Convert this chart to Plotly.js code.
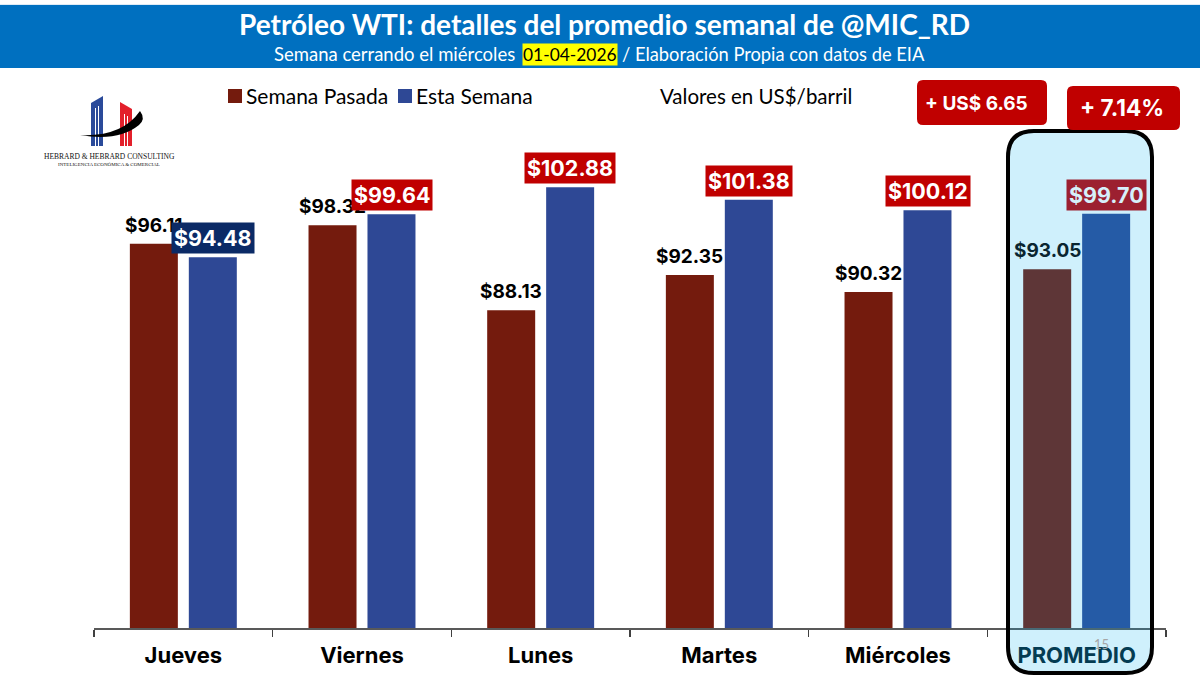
<!DOCTYPE html>
<html><head><meta charset="utf-8">
<script src="https://cdn.plot.ly/plotly-3.0.1.min.js"></script>
<style>html,body{margin:0;padding:0;background:#fff}#c{width:1200px;height:675px}</style></head>
<body><div id="c"></div>
<script>
const categories = ["Jueves","Viernes","Lunes","Martes","Miércoles","PROMEDIO"];
const semanaPasada = [96.11,98.32,88.13,92.35,90.32,93.05];
const estaSemana = [94.48,99.64,102.88,101.38,100.12,99.70];
const boxColors = ["#0B2A66","#C00000","#C00000","#C00000","#C00000","#9C2030"];
const seriesNames = ["Semana Pasada","Esta Semana"];
const seriesColors = ["#741B0D","#2E4895"];
const titleText = "Petróleo WTI: detalles del promedio semanal de @MIC_RD";

const L=94,R=1166,T=128,B=628;
const px=x=>(x-L)/(R-L), py=y=>(B-y)/(B-T);
const sans="Lato, 'Open Sans', sans-serif", inter="Inter, Roboto, sans-serif";
function rr(x0,y0,x1,y1,r){
  return `M${px(x0+r)},${py(y0)}L${px(x1-r)},${py(y0)}Q${px(x1)},${py(y0)} ${px(x1)},${py(y0+r)}L${px(x1)},${py(y1-r)}Q${px(x1)},${py(y1)} ${px(x1-r)},${py(y1)}L${px(x0+r)},${py(y1)}Q${px(x0)},${py(y1)} ${px(x0)},${py(y1-r)}L${px(x0)},${py(y0+r)}Q${px(x0)},${py(y0)} ${px(x0+r)},${py(y0)}Z`;
}
function poly(p){return "M"+p.map(a=>px(a[0])+","+py(a[1])).join("L")+"Z";}
function box(x0,y0,x1,y1,fill,line,layer){
  return {type:"rect",xref:"paper",yref:"paper",x0:px(x0),x1:px(x1),y0:py(y0),y1:py(y1),fillcolor:fill,line:line||{width:0},layer:layer||"above"};
}
function path(d,fill,line){return {type:"path",xref:"paper",yref:"paper",path:d,fillcolor:fill,line:line||{width:0},layer:"above"};}
function txt(x,y,text,size,color,family,anchor,extra){
  return Object.assign({xref:"paper",yref:"paper",x:px(x),y:py(y),text,showarrow:false,xanchor:anchor||"center",yanchor:"middle",font:{size,color,family}},extra||{});
}

const shapes=[
  box(0,4.5,1200,5.5,"#BDD7EE"),
  box(0,5,1200,68,"#0070C0"),
  // legend keys
  box(228,89,242,103,seriesColors[0]),
  box(398,89,412,103,seriesColors[1]),
  // logo
  path(poly([[91,103],[103,96],[103,146],[91,146]]),"#2A4A9A"),
  path(poly([[120,102],[132,109],[132,146],[120,146]]),"#E3202B"),
  box(95,108,96,146,"#FFFFFF"), box(98,106,99,146,"#FFFFFF"),
  box(124,114,125,146,"#FFFFFF"), box(127,116,128,146,"#FFFFFF"),
  path(`M${px(80)},${py(135)}Q${px(122)},${py(137)} ${px(140)},${py(111)}Q${px(146)},${py(119)} ${px(139)},${py(125)}Q${px(118)},${py(142)} ${px(80)},${py(135)}Z`,"#000000"),
  // highlight panel
  path(rr(1008,131,1152,673,26),"rgba(0,176,240,0.19)",{color:"#000000",width:4}),
  // badges
  path(rr(917,80,1047,125,6),"#C00000"),
  path(rr(1067,86,1180,130,6),"#C00000")
];

const annotations=[
  txt(604,24,"<b>"+titleText+"</b>",28,"#FFFFFF",sans),
  txt(522,54,"Semana cerrando el miércoles ",18.5,"#FFFFFF",sans,"right"),
  txt(570,54,"01-04-2026",17.4,"#000000",sans,"center",{bgcolor:"#FFFF00",borderpad:0}),
  txt(620,54,"/ Elaboración Propia con datos de EIA",18.3,"#FFFFFF",sans,"left"),
  txt(244,96,seriesNames[0],21,"#000000",sans,"left"),
  txt(414,96,seriesNames[1],21,"#000000",sans,"left"),
  txt(756,96,"Valores en US$/barril",20.5,"#000000",sans),
  txt(109,156,"HEBRARD &amp; HEBRARD CONSULTING",7.5,"#111111","'Liberation Serif', serif"),
  txt(109,165,"INTELIGENCIA ECONÓMICA &amp; COMERCIAL",5,"#111111","'Liberation Serif', serif"),
  txt(976,104,"<b>+ US$ 6.65</b>",19,"#FFFFFF",inter),
  txt(1122,108,"<b>+ 7.14%</b>",22.5,"#FFFFFF",inter),
  txt(1101,644,"15",13,"#A6A6A6",sans)
];
categories.forEach((c,i)=>{
  const promedio=c==="PROMEDIO";
  annotations.push({x:c,y:semanaPasada[i],xref:"x",yref:"y",xshift:-29.5,yshift:5,yanchor:"bottom",xanchor:"center",showarrow:false,
    text:"<b>$"+semanaPasada[i].toFixed(2)+"</b>",font:{size:19,color:promedio?"#0A2530":"#000000",family:inter}});
});
categories.forEach((c,i)=>{
  annotations.push({x:c,y:estaSemana[i],xref:"x",yref:"y",xshift:29.5,yshift:3,yanchor:"bottom",xanchor:"center",showarrow:false,
    text:"<b>$"+estaSemana[i].toFixed(2)+"</b>",bgcolor:boxColors[i],borderpad:2,
    font:{size:21.5,color:i===5?"#D6F0FB":"#FFFFFF",family:inter}});
});

const data=[
  {type:"bar",name:seriesNames[0],x:categories,y:semanaPasada,marker:{color:seriesColors[0]},hoverinfo:"skip"},
  {type:"bar",name:seriesNames[1],x:categories,y:estaSemana,marker:{color:seriesColors[1]},hoverinfo:"skip"}
];
const layout={
  width:1200,height:675,margin:{l:L,r:1200-R,t:T,b:675-B,pad:0},
  paper_bgcolor:"#FFFFFF",plot_bgcolor:"rgba(0,0,0,0)",
  barmode:"group",bargap:0.34,bargroupgap:0.186,
  xaxis:{type:"category",categoryorder:"array",categoryarray:categories,tickmode:"array",tickvals:categories,
    ticktext:categories.map(c=>c==="PROMEDIO"?'<span style="color:#06222E">'+c+'</span>':c).map(s=>"<b>"+s+"</b>"),
    tickson:"boundaries",ticks:"outside",ticklen:7,tickwidth:1.3,tickcolor:"#404040",showline:true,linecolor:"#595959",linewidth:1.5,
    showgrid:false,zeroline:false,tickfont:{family:inter,size:22,color:"#000000"},tickangle:0,ticklabelstandoff:7},
  yaxis:{visible:false,range:[50,110],fixedrange:true,showgrid:false,zeroline:false},
  showlegend:false,shapes,annotations
};
Plotly.newPlot("c",data,layout,{displayModeBar:false,staticPlot:true});
</script></body></html>
